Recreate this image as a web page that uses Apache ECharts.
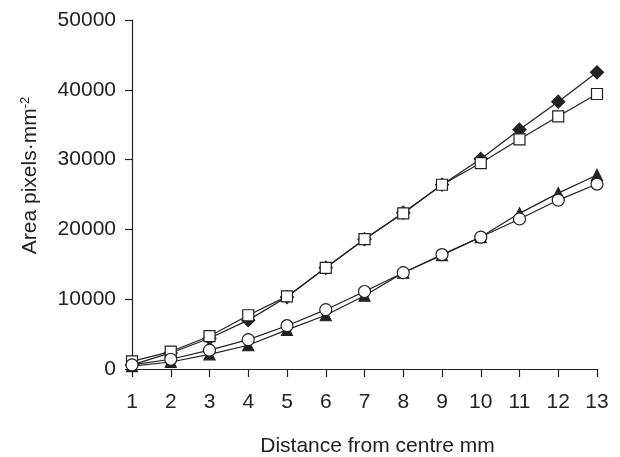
<!DOCTYPE html>
<html>
<head>
    <meta charset="utf-8">
    <title>Area vs distance</title>
    <script src="https://cdn.jsdelivr.net/npm/echarts@6/dist/echarts.min.js"></script>
    <style>
        html, body { margin: 0; padding: 0; background: #ffffff; }
        #chart { width: 620px; height: 457px; }
    </style>
</head>
<body>
<div id="chart"></div>
<script>
var distance = [1, 2, 3, 4, 5, 6, 7, 8, 9, 10, 11, 12, 13];
var diamondSeries = [600, 2300, 4400, 7000, 10300, 14500, 18600, 22400, 26400, 30100, 34300, 38300, 42500];
var squareSeries = [1100, 2500, 4700, 7700, 10400, 14500, 18600, 22300, 26400, 29500, 32900, 36200, 39400];
var triangleSeries = [400, 1000, 2100, 3400, 5600, 7700, 10500, 13800, 16300, 18900, 22300, 25200, 27800];
var circleSeries = [600, 1400, 2700, 4200, 6200, 8500, 11100, 13800, 16400, 18900, 21500, 24200, 26500];
var yTicks = [0, 10000, 20000, 30000, 40000, 50000];

function pairs(values) {
    var out = [];
    for (var i = 0; i < distance.length; i++) {
        out.push([distance[i], values[i]]);
    }
    return out;
}

var font = 'Liberation Sans, Arial, sans-serif';
var ink = '#222222';

// one line series, filled or open marker
function makeSeries(values, symbol, size, filled) {
    return {
        type: 'line',
        data: pairs(values),
        symbol: symbol,
        symbolSize: size,
        showAllSymbol: true,
        lineStyle: { color: ink, width: 1.2 },
        itemStyle: {
            color: filled ? ink : '#ffffff',
            borderColor: ink,
            borderWidth: 1.2
        },
        emphasis: { disabled: true },
        animation: false
    };
}

var chart = echarts.init(document.getElementById('chart'));

var option = {
    backgroundColor: '#ffffff',
    grid: { left: 132, right: 23, top: 20, bottom: 88, containLabel: false, outerBoundsMode: 'none' },
    xAxis: {
        type: 'value',
        min: 1,
        max: 13,
        interval: 1,
        offset: 8,
        name: 'Distance from centre mm',
        nameLocation: 'middle',
        nameGap: 59,
        nameTextStyle: { color: ink, fontSize: 21, fontFamily: font, padding: [0, 0, 0, 26] },
        axisLine: { lineStyle: { color: ink, width: 1.2 } },
        axisTick: { length: 8, lineStyle: { color: ink, width: 1.2 } },
        axisLabel: { color: ink, fontSize: 21, fontFamily: font, margin: 15 },
        splitLine: { show: false }
    },
    yAxis: {
        type: 'value',
        min: yTicks[0],
        max: yTicks[yTicks.length - 1],
        interval: 10000,
        name: '{a|Area pixels·mm}{s|-2}',
        nameLocation: 'middle',
        nameGap: 90,
        nameTextStyle: {
            color: ink,
            fontFamily: font,
            padding: [0, 0, 0, 38],
            rich: {
                a: { fontSize: 21, fontFamily: font, color: ink },
                s: { fontSize: 13, fontFamily: font, color: ink, verticalAlign: 'top', padding: [0, 0, 10, 0] }
            }
        },
        axisLine: { show: true, lineStyle: { color: ink, width: 1.2 } },
        axisTick: { show: true, length: 7, lineStyle: { color: ink, width: 1.2 } },
        axisLabel: {
            color: ink, fontSize: 21, fontFamily: font, margin: 16,
            formatter: function (v) { return String(v); }
        },
        splitLine: { show: false }
    },
    series: [
        makeSeries(diamondSeries, 'diamond', 13, true),
        makeSeries(squareSeries, 'rect', 11, false),
        makeSeries(triangleSeries, 'triangle', 11, true),
        makeSeries(circleSeries, 'circle', 12, false)
    ]
};

chart.setOption(option);
</script>
</body>
</html>
